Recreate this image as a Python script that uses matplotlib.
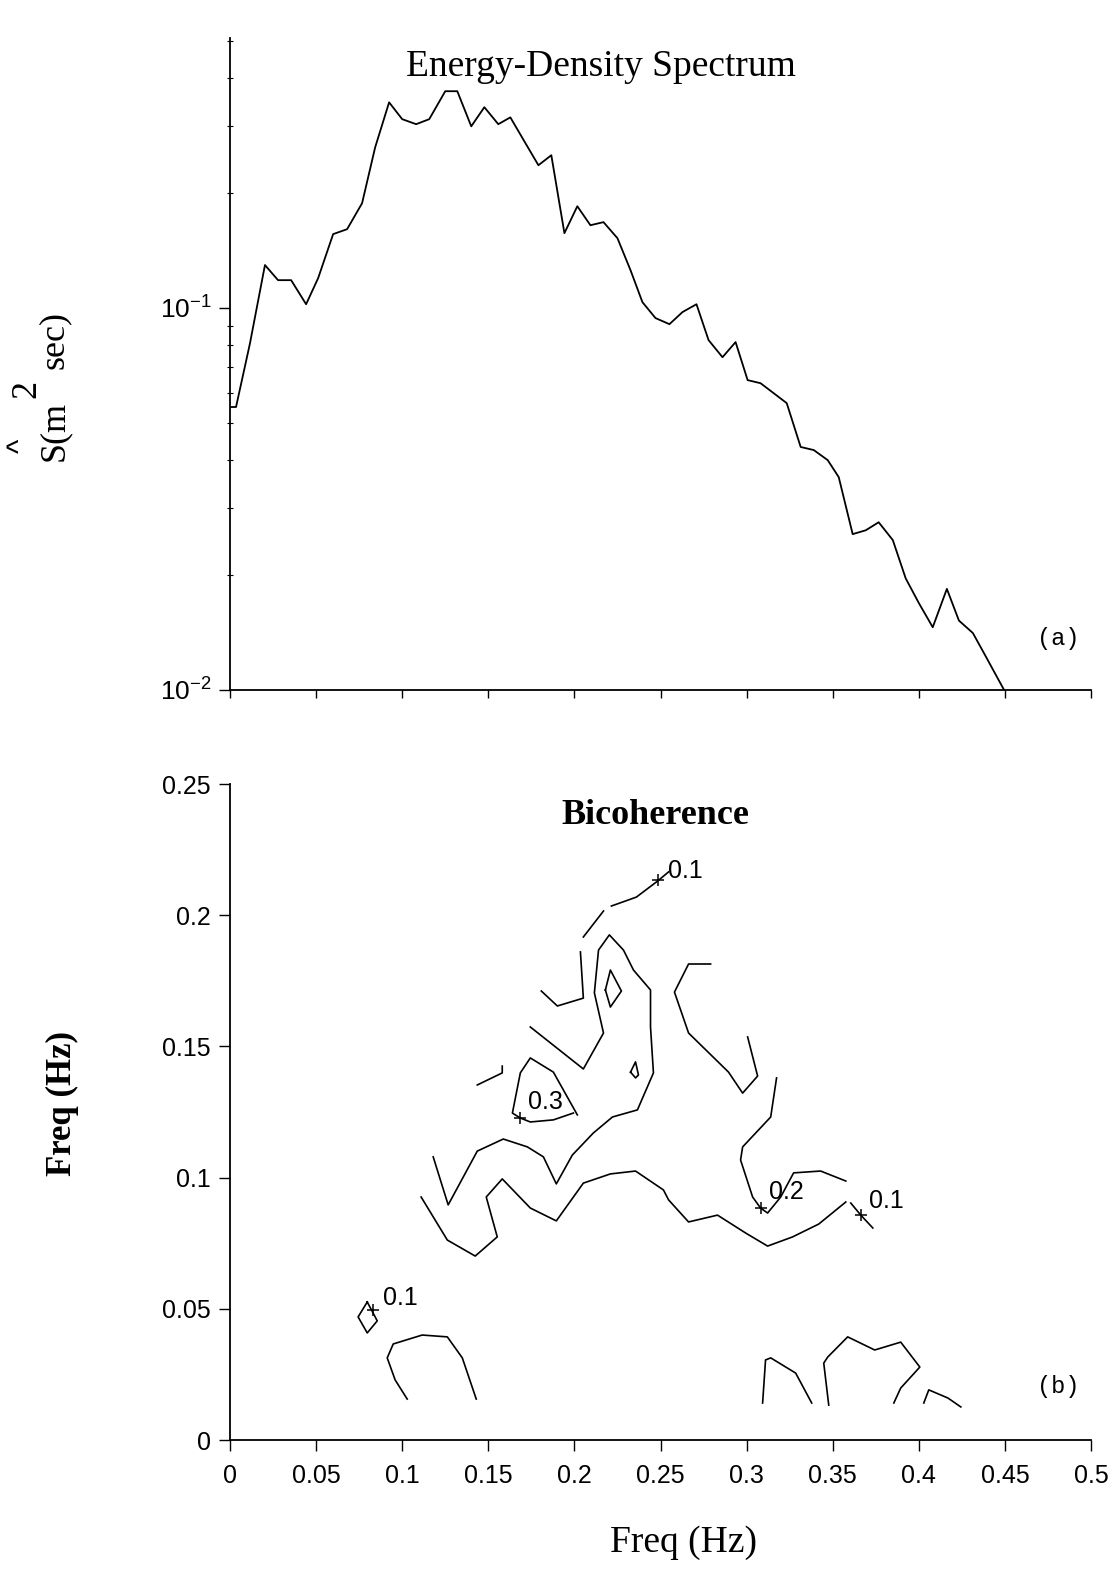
import matplotlib
matplotlib.use("Agg")
import matplotlib.pyplot as plt
from matplotlib.ticker import FixedLocator, FixedFormatter, NullFormatter

plt.rcParams['mathtext.fontset'] = 'custom'
plt.rcParams['mathtext.rm'] = 'Liberation Sans'
plt.rcParams['mathtext.it'] = 'Liberation Sans:italic'
plt.rcParams['mathtext.bf'] = 'Liberation Sans:bold'

# ---------------- Energy-density spectrum (panel a) ----------------
spec_freq = [0.0, 0.0035, 0.0116, 0.0203, 0.0279, 0.0355, 0.0442, 0.0512, 0.0599, 0.0680,
             0.0767, 0.0843, 0.0924, 0.1000, 0.1081, 0.1157, 0.1250, 0.1320, 0.1401, 0.1477,
             0.1558, 0.1628, 0.1709, 0.1791, 0.1866, 0.1942, 0.2017, 0.2093, 0.2169, 0.2250,
             0.2326, 0.2395, 0.2471, 0.2552, 0.2628, 0.2709, 0.2779, 0.2860, 0.2936, 0.3006,
             0.3081, 0.3157, 0.3233, 0.3314, 0.3390, 0.3471, 0.3535, 0.3616, 0.3692, 0.3767,
             0.3849, 0.3924, 0.4000, 0.4081, 0.4163, 0.4233, 0.4314, 0.4378, 0.4506]
spec_S = [0.0551, 0.0551, 0.0809, 0.1297, 0.1184, 0.1184, 0.1024, 0.1199, 0.1563, 0.1610,
          0.1883, 0.2638, 0.3460, 0.3126, 0.3033, 0.3126, 0.3700, 0.3700, 0.2994, 0.3360,
          0.3033, 0.3160, 0.2737, 0.2368, 0.2515, 0.1572, 0.1849, 0.1649, 0.1680, 0.1525,
          0.1257, 0.1037, 0.0942, 0.0908, 0.0977, 0.1024, 0.0825, 0.0744, 0.0815, 0.0648,
          0.0636, 0.0599, 0.0564, 0.0433, 0.0425, 0.0400, 0.0361, 0.0256, 0.0262, 0.0275,
          0.0247, 0.0196, 0.0169, 0.0146, 0.0184, 0.0152, 0.0141, 0.0125, 0.0098]

# ---------------- Bicoherence contour lines (panel b) ----------------
c_top1_x = [0.2052, 0.2169]
c_top1_y = [0.1917, 0.2016]
c_top2_x = [0.2215, 0.2360, 0.2483, 0.2547]
c_top2_y = [0.2035, 0.2069, 0.2130, 0.2165]
c_b_x = [0.2035, 0.2052, 0.1901, 0.1808]
c_b_y = [0.1860, 0.1684, 0.1654, 0.1711]
c_c_x = [0.1744, 0.2052, 0.2169, 0.2116, 0.2140, 0.2203, 0.2285, 0.2343, 0.2442, 0.2442,
         0.2459, 0.2366, 0.2221, 0.2110, 0.1988, 0.1895, 0.1820, 0.1727, 0.1587, 0.1436,
         0.1267, 0.1180]
c_c_y = [0.1574, 0.1414, 0.1551, 0.1704, 0.1867, 0.1925, 0.1867, 0.1791, 0.1715, 0.1574,
         0.1399, 0.1258, 0.1231, 0.1170, 0.1086, 0.0976, 0.1079, 0.1117, 0.1147, 0.1101,
         0.0896, 0.1079]
c_d_x = [0.1436, 0.1581, 0.1581]
c_d_y = [0.1353, 0.1399, 0.1425]
c_e_x = [0.2017, 0.1959, 0.1878, 0.1744, 0.1686, 0.1640, 0.1686, 0.1744, 0.1878, 0.1994]
c_e_y = [0.1239, 0.1307, 0.1402, 0.1456, 0.1399, 0.1246, 0.1227, 0.1212, 0.1220, 0.1246]
c_f_x = [0.2180, 0.2209, 0.2273, 0.2209, 0.2180]
c_f_y = [0.1715, 0.1791, 0.1711, 0.1650, 0.1715]
c_g_x = [0.2326, 0.2355, 0.2372, 0.2355, 0.2326]
c_g_y = [0.1402, 0.1441, 0.1391, 0.1380, 0.1402]
c_h_x = [0.2791, 0.2663, 0.2581, 0.2663, 0.2895, 0.2977, 0.3064, 0.3006]
c_h_y = [0.1814, 0.1814, 0.1707, 0.1551, 0.1402, 0.1322, 0.1387, 0.1536]
c_i_x = [0.3174, 0.3140, 0.2977, 0.2965, 0.3035, 0.3081, 0.3122, 0.3198, 0.3273, 0.3430, 0.3576]
c_i_y = [0.1380, 0.1231, 0.1117, 0.1067, 0.0926, 0.0884, 0.0865, 0.0926, 0.1018, 0.1025, 0.0987]
c_j_x = [0.1110, 0.1262, 0.1424, 0.1552, 0.1488, 0.1581, 0.1744, 0.1895, 0.2052, 0.2209,
         0.2355, 0.2517, 0.2547, 0.2663, 0.2831, 0.2994, 0.3122, 0.3267, 0.3419, 0.3576]
c_j_y = [0.0926, 0.0762, 0.0701, 0.0774, 0.0926, 0.0995, 0.0884, 0.0835, 0.0979, 0.1014,
         0.1025, 0.0953, 0.0915, 0.0831, 0.0857, 0.0789, 0.0739, 0.0774, 0.0823, 0.0907]
c_l_x = [0.3605, 0.3663, 0.3733]
c_l_y = [0.0903, 0.0857, 0.0808]
c_m_x = [0.0797, 0.0744, 0.0797, 0.0855, 0.0831, 0.0797]
c_m_y = [0.0526, 0.0469, 0.0408, 0.0454, 0.0484, 0.0526]
c_n_x = [0.1029, 0.0959, 0.0913, 0.0948, 0.1116, 0.1262, 0.1349, 0.1430]
c_n_y = [0.0156, 0.0229, 0.0313, 0.0366, 0.0400, 0.0393, 0.0313, 0.0156]
c_o_x = [0.3093, 0.3110, 0.3140, 0.3285, 0.3378]
c_o_y = [0.0141, 0.0305, 0.0313, 0.0255, 0.0141]
c_p_x = [0.3477, 0.3448, 0.3471, 0.3587, 0.3744, 0.3895, 0.4006, 0.3895, 0.3855]
c_p_y = [0.0133, 0.0293, 0.0316, 0.0393, 0.0343, 0.0373, 0.0278, 0.0198, 0.0141]
c_q_x = [0.4029, 0.4058, 0.4169, 0.4244]
c_q_y = [0.0141, 0.0191, 0.0160, 0.0126]

label_text = ['0.1', '0.3', '0.2', '0.1', '0.1']
label_mark_x = [0.2483, 0.1686, 0.3081, 0.3663, 0.0831]
label_mark_y = [0.2134, 0.1227, 0.0884, 0.0857, 0.0495]
label_text_x = [0.2541, 0.1733, 0.3128, 0.3709, 0.0890]
label_text_y = [0.2168, 0.1288, 0.0945, 0.0911, 0.0541]

freq_ticks = [0, 0.05, 0.1, 0.15, 0.2, 0.25, 0.3, 0.35, 0.4, 0.45, 0.5]
freq_tick_labels = ['0', '0.05', '0.1', '0.15', '0.2', '0.25', '0.3', '0.35', '0.4', '0.45', '0.5']
bifreq_ticks = [0, 0.05, 0.1, 0.15, 0.2, 0.25]
bifreq_tick_labels = ['0', '0.05', '0.1', '0.15', '0.2', '0.25']
spec_major_ticks = [0.01, 0.1]
spec_major_labels = [r'$10^{-2}$', r'$10^{-1}$']
spec_minor_ticks = [0.02, 0.03, 0.04, 0.05, 0.06, 0.07, 0.08, 0.09, 0.2, 0.3, 0.4, 0.5]

SANS = 'Liberation Sans'
SERIF = 'Liberation Serif'
MONO = 'Liberation Mono'

W, H = 1117, 1569
fig = plt.figure(figsize=(W / 100, H / 100), dpi=100)

def fx(px):
    return px / W

def fy(py):
    return 1 - py / H

# ---- top axes ----
ax1 = fig.add_axes([fx(230), fy(690), fx(1091) - fx(230), fy(38) - fy(690)])
ax1.semilogy(spec_freq, spec_S, color='black', lw=1.3)
ax1.set_xlim(0, 0.5)
ax1.set_ylim(0.01, 0.51)
for s in ['top', 'right']:
    ax1.spines[s].set_visible(False)
for s in ['left', 'bottom']:
    ax1.spines[s].set_linewidth(1.3)
ax1.xaxis.set_major_locator(FixedLocator(freq_ticks))
ax1.xaxis.set_major_formatter(NullFormatter())
ax1.tick_params(axis='x', which='major', direction='out', length=6, width=1)
ax1.yaxis.set_major_locator(FixedLocator(spec_major_ticks))
ax1.yaxis.set_major_formatter(FixedFormatter(spec_major_labels))
ax1.yaxis.set_minor_locator(FixedLocator(spec_minor_ticks))
ax1.yaxis.set_minor_formatter(NullFormatter())
ax1.tick_params(axis='y', which='major', direction='out', length=8, width=1,
                labelsize=19, pad=5)
ax1.tick_params(axis='y', which='minor', direction='inout', length=4, width=0.8)
ax1.text(0.987, 0.0797, '(a)', transform=ax1.transAxes, family=MONO, fontsize=17,
         ha='right', va='center')

fig.text(fx(601), fy(67), 'Energy-Density Spectrum', family=SERIF, fontsize=27,
         ha='center', va='center')
# y label of the spectrum, built from its separate pieces
fig.text(fx(54), fy(431), 'S(m', family=SERIF, fontsize=26, rotation=90,
         ha='center', va='center')
fig.text(fx(27), fy(389), '2', family=SERIF, fontsize=26, rotation=90,
         ha='center', va='center')
fig.text(fx(54), fy(340), 'sec)', family=SERIF, fontsize=26, rotation=90,
         ha='center', va='center')
fig.text(fx(21), fy(446), '^', family=SANS, fontsize=22, rotation=90,
         ha='center', va='center')

# ---- bottom axes ----
ax2 = fig.add_axes([fx(230), fy(1440), fx(1091) - fx(230), fy(784) - fy(1440)])
contours = [(c_top1_x, c_top1_y), (c_top2_x, c_top2_y), (c_b_x, c_b_y), (c_c_x, c_c_y),
            (c_d_x, c_d_y), (c_e_x, c_e_y), (c_f_x, c_f_y), (c_g_x, c_g_y),
            (c_h_x, c_h_y), (c_i_x, c_i_y), (c_j_x, c_j_y), (c_l_x, c_l_y),
            (c_m_x, c_m_y), (c_n_x, c_n_y), (c_o_x, c_o_y), (c_p_x, c_p_y),
            (c_q_x, c_q_y)]
for cx, cy in contours:
    ax2.plot(cx, cy, color='black', lw=1.2)
ax2.plot(label_mark_x, label_mark_y, linestyle='none', marker='+', color='black',
         markersize=9, markeredgewidth=1.1)
for t, tx, ty in zip(label_text, label_text_x, label_text_y):
    ax2.text(tx, ty, t, family=SANS, fontsize=18, ha='left', va='center')
ax2.set_xlim(0, 0.5)
ax2.set_ylim(0, 0.25)
for s in ['top', 'right']:
    ax2.spines[s].set_visible(False)
for s in ['left', 'bottom']:
    ax2.spines[s].set_linewidth(1.3)
ax2.xaxis.set_major_locator(FixedLocator(freq_ticks))
ax2.xaxis.set_major_formatter(FixedFormatter(freq_tick_labels))
ax2.yaxis.set_major_locator(FixedLocator(bifreq_ticks))
ax2.yaxis.set_major_formatter(FixedFormatter(bifreq_tick_labels))
ax2.tick_params(axis='both', which='major', direction='out', length=8, width=1,
                labelsize=18)
ax2.tick_params(axis='x', pad=9)
ax2.tick_params(axis='y', pad=6)
for lab in ax2.get_xticklabels() + ax2.get_yticklabels():
    lab.set_family(SANS)
ax2.text(0.987, 0.0823, '(b)', transform=ax2.transAxes, family=MONO, fontsize=17,
         ha='right', va='center')

fig.text(fx(655), fy(815), 'Bicoherence', family=SERIF, fontsize=26, fontweight='bold',
         ha='center', va='center')
fig.text(fx(62), fy(1103), 'Freq (Hz)', family=SERIF, fontsize=25, fontweight='bold',
         rotation=90, ha='center', va='center')
fig.text(fx(683), fy(1543), 'Freq (Hz)', family=SERIF, fontsize=27,
         ha='center', va='center')

fig.savefig('out.png', dpi=100)
